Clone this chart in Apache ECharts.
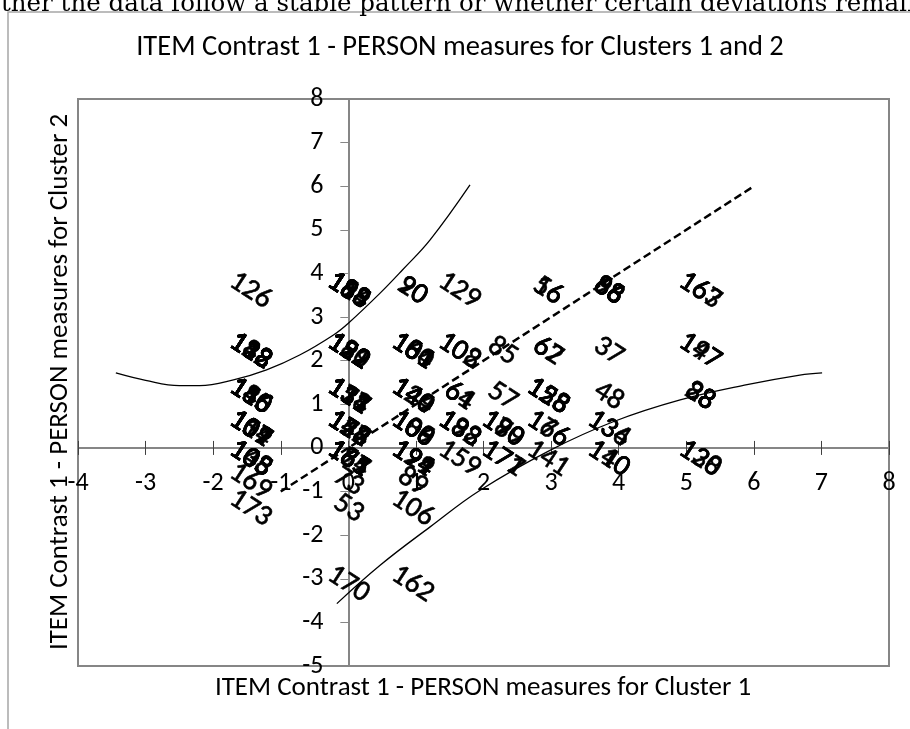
<!DOCTYPE html>
<html>
<head>
<meta charset="utf-8">
<script src="https://cdn.jsdelivr.net/npm/echarts@6/dist/echarts.min.js"></script>
<style>
  html, body { margin: 0; padding: 0; background: #ffffff; }
  #chart { width: 910px; height: 729px; }
</style>
</head>
<body>
<div id="chart"></div>
<script>
// Person measures: [cluster 1 measure, cluster 2 measure, person labels at that point]
const personGroups = [
  [-1.45,  3.60, ['126']],
  [-1.45,  2.21, ['112', '113', '118', '123', '138', '142', '188']],
  [-1.45,  1.18, ['115', '116', '145', '146', '150', '180']],
  [-1.45,  0.43, ['101', '107', '119', '139', '157', '104']],
  [-1.45, -0.25, ['103', '105', '135', '148', '133']],
  [-1.45, -0.78, ['169']],
  [-1.45, -1.39, ['173']],
  [ 0.00,  3.60, ['114', '155', '168', '185', '189', '198', '188']],
  [ 0.00,  2.21, ['121', '122', '150', '152', '182', '192', '129']],
  [ 0.00,  1.18, ['111', '117', '131', '137', '151', '174', '118']],
  [ 0.00,  0.43, ['127', '143', '154', '156', '172', '178', '148']],
  [ 0.00, -0.25, ['161', '164', '165', '175', '187', '181']],
  [ 0.00, -0.78, ['73']],
  [ 0.00, -1.39, ['53']],
  [ 0.00, -3.13, ['170']],
  [ 0.95,  3.60, ['90', '20']],
  [ 0.95,  2.21, ['160', '181', '184', '101']],
  [ 0.95,  1.18, ['120', '144', '149', '140']],
  [ 0.95,  0.43, ['100', '109', '186', '108']],
  [ 0.95, -0.25, ['124', '194', '199', '191']],
  [ 0.95, -0.78, ['89']],
  [ 0.95, -1.39, ['106']],
  [ 0.95, -3.13, ['162']],
  [ 1.64,  3.60, ['129']],
  [ 1.64,  2.21, ['108', '102']],
  [ 1.64,  1.18, ['61', '64']],
  [ 1.64,  0.43, ['132', '183', '193', '138']],
  [ 1.64, -0.25, ['159']],
  [ 2.28,  2.21, ['85']],
  [ 2.28,  1.18, ['57']],
  [ 2.28,  0.43, ['179', '180', '190']],
  [ 2.28, -0.25, ['171', '177']],
  [ 2.95,  3.60, ['56', '16']],
  [ 2.95,  2.21, ['67', '62']],
  [ 2.95,  1.18, ['125', '153', '158', '128']],
  [ 2.95,  0.43, ['176', '166']],
  [ 2.95, -0.25, ['141']],
  [ 3.85,  3.60, ['66', '68', '86', '98', '88']],
  [ 3.85,  2.21, ['37']],
  [ 3.85,  1.18, ['48']],
  [ 3.85,  0.43, ['134', '136']],
  [ 3.85, -0.25, ['110', '140']],
  [ 5.20,  3.60, ['163', '167']],
  [ 5.20,  2.21, ['147', '197']],
  [ 5.20,  1.18, ['28', '38', '88']],
  [ 5.20, -0.25, ['130', '128']]
];

// Identity line between the two cluster measures
const identityLine = [[-1, -1], [6, 6]];

// 95% confidence band around the identity line
const upperBand = [
  [-3.44, 1.72], [-3.00, 1.55], [-2.50, 1.43], [-2.20, 1.43], [-1.70, 1.56],
  [-1.21, 1.79], [-0.72, 2.13], [-0.22, 2.59], [0.00, 2.86], [0.47, 3.55],
  [0.80, 4.08], [1.21, 4.77], [1.80, 6.03]
];
const lowerBand = [
  [-0.17, -3.57], [0.47, -2.69], [1.21, -1.81], [1.95, -0.97], [2.99, -0.05],
  [3.92, 0.60], [4.91, 1.10], [5.90, 1.45], [6.68, 1.67], [7.01, 1.72]
];

const chartTitle = 'ITEM Contrast 1 - PERSON measures for Clusters 1 and 2';
const xTitle = 'ITEM Contrast 1 - PERSON measures for Cluster 1';
const yTitle = 'ITEM Contrast 1 - PERSON measures for Cluster 2';
const bodyText = 'ther the data follow a stable pattern or whether certain deviations remain';

const SANS = 'Carlito, "Open Sans", sans-serif';

// one scatter item per person, labelled with its id
const personPoints = [];
personGroups.forEach(([m1, m2, ids]) => {
  ids.forEach(id => personPoints.push({ value: [m1, m2], name: id }));
});

const chart = echarts.init(document.getElementById('chart'), null, { renderer: 'canvas' });

const axisGray = '#868686';
const X_MIN = -4, X_MAX = 8, Y_MIN = -5, Y_MAX = 8;

function xAxisDef(position, showLabels) {
  return {
    type: 'value', min: X_MIN, max: X_MAX, interval: 1, position: position, offset: 0,
    axisLine: { onZero: false, lineStyle: { color: axisGray, width: 2 } },
    axisTick: { show: true, length: 7, lineStyle: { color: '#404040', width: 1 } },
    axisLabel: { show: showLabels, margin: 23, color: '#000', fontFamily: SANS, fontSize: 26 },
    splitLine: { show: false }
  };
}

chart.setOption({
  animation: false,
  backgroundColor: '#ffffff',
  grid: {
    left: 78, top: 99, right: 21, bottom: 63,
    show: true, borderColor: axisGray, borderWidth: 2, backgroundColor: 'transparent'
  },
  xAxis: [xAxisDef('bottom', true), xAxisDef('top', false)],
  yAxis: {
    type: 'value', min: Y_MIN, max: Y_MAX, interval: 1, position: 'left', offset: 0,
    axisLine: { onZero: false, lineStyle: { color: axisGray, width: 2 } },
    axisTick: { show: true, length: 8, lineStyle: { color: axisGray, width: 1 } },
    axisLabel: { margin: 25, color: '#000', fontFamily: SANS, fontSize: 26 },
    splitLine: { show: false }
  },
  graphic: [
    {
      type: 'text', left: 1, top: -8, silent: true,
      style: { text: bodyText, font: '24.5px "DejaVu Serif"', fill: '#000' }
    },
    {
      type: 'rect', silent: true, z: -1,
      shape: { x: 8, y: 12, width: 1000, height: 800 },
      style: { fill: 'none', stroke: '#a6a6a6', lineWidth: 1.5 }
    },
    {
      type: 'text', x: 460, y: 48, silent: true,
      style: { text: chartTitle, font: '28.5px ' + SANS, fill: '#000', align: 'center', verticalAlign: 'middle' }
    },
    {
      type: 'text', x: 483, y: 688, silent: true,
      style: { text: xTitle, font: '27px ' + SANS, fill: '#000', align: 'center', verticalAlign: 'middle' }
    },
    {
      type: 'text', x: 60, y: 382, rotation: Math.PI / 2, silent: true,
      style: { text: yTitle, font: '27px ' + SANS, fill: '#000', align: 'center', verticalAlign: 'middle' }
    }
  ],
  series: [
    {
      type: 'line', data: upperBand, smooth: 0.4, symbol: 'none', xAxisIndex: 0,
      lineStyle: { color: '#000', width: 1.3 }, z: 3
    },
    {
      type: 'line', data: lowerBand, smooth: 0.4, symbol: 'none', xAxisIndex: 0,
      lineStyle: { color: '#000', width: 1.3 }, z: 3
    },
    {
      type: 'line', data: identityLine, symbol: 'none', xAxisIndex: 0,
      lineStyle: { color: '#000', width: 2.5, type: [8, 4] }, z: 3
    },
    {
      type: 'scatter', data: personPoints, xAxisIndex: 0, symbol: 'circle', symbolSize: 1,
      itemStyle: { color: 'rgba(0,0,0,0)', opacity: 1 }, z: 4,
      emphasis: { disabled: true },
      label: {
        show: true, position: 'inside', rotate: -33, opacity: 1,
        formatter: p => p.name,
        color: '#000', textBorderColor: '#000', textBorderWidth: 0.6,
        fontFamily: SANS, fontSize: 29
      }
    }
  ]
});

// Axes cross at the origin: shift each axis from the grid edge to the zero line
const x0 = chart.convertToPixel({ xAxisIndex: 0 }, 0);
const xLeft = chart.convertToPixel({ xAxisIndex: 0 }, X_MIN);
const y0 = chart.convertToPixel({ yAxisIndex: 0 }, 0);
const yTop = chart.convertToPixel({ yAxisIndex: 0 }, Y_MAX);
const yBottom = chart.convertToPixel({ yAxisIndex: 0 }, Y_MIN);
chart.setOption({
  xAxis: [{ offset: -(yBottom - y0) }, { offset: -(y0 - yTop) }],
  yAxis: { offset: -(x0 - xLeft) }
});
</script>
</body>
</html>
